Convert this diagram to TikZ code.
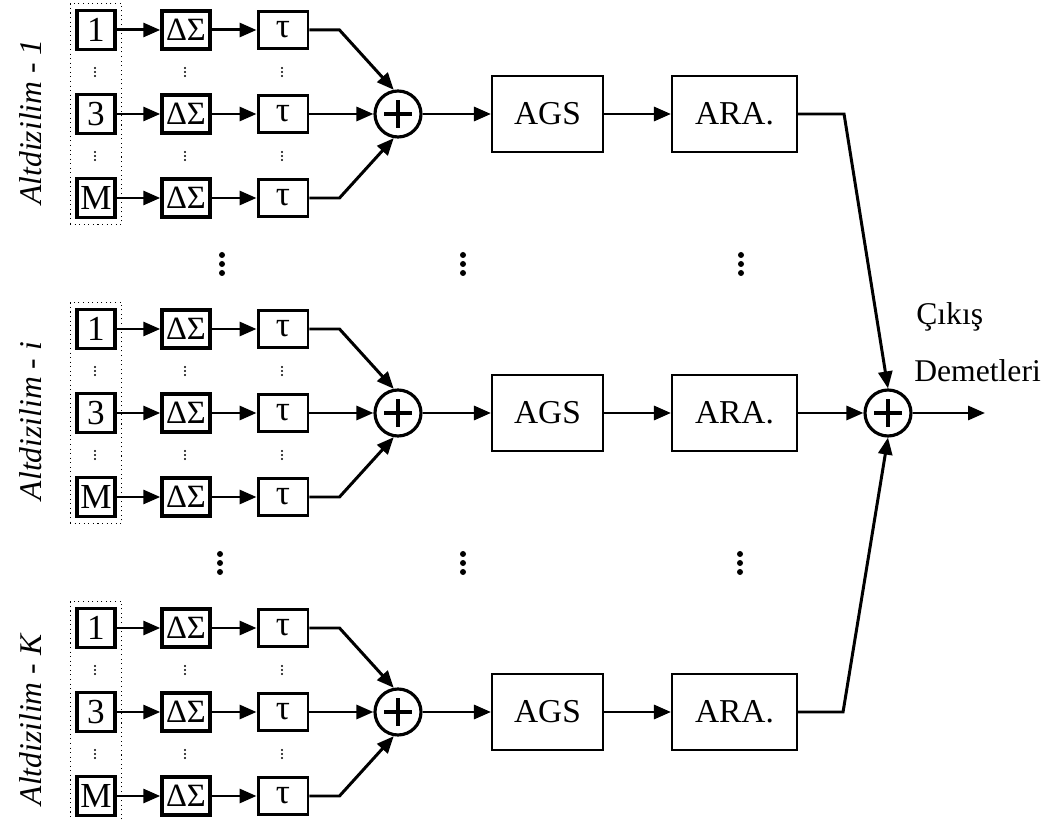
\documentclass[tikz,border=0pt]{standalone}
\usepackage{fontspec}
\setmainfont{Liberation Serif}
\usetikzlibrary{arrows.meta, fit}

\tikzset{
  chanbox/.style={draw, line width=2.2pt, minimum width=0.76cm, minimum height=0.78cm, inner sep=0pt, font=\fontsize{20}{22}\selectfont},
  dsbox/.style={chanbox, line width=2pt, minimum width=0.96cm, minimum height=0.76cm, font=\fontsize{18.5}{21}\selectfont},
  taubox/.style={chanbox, line width=1.7pt, minimum width=1.0cm, minimum height=0.74cm},
  blockbox/.style={draw, line width=1.2pt, minimum height=1.52cm, inner sep=0pt, font=\fontsize{19}{21}\selectfont},
  summer/.style={circle, draw, line width=1.8pt, minimum size=0.92cm, inner sep=0pt,
    path picture={\draw[line width=2pt]
      ([xshift=-0.28cm]path picture bounding box.center) -- ([xshift=0.28cm]path picture bounding box.center)
      ([yshift=-0.28cm]path picture bounding box.center) -- ([yshift=0.28cm]path picture bounding box.center);}},
  sig/.style={line width=1.7pt, -{Triangle[length=0.34cm, width=0.28cm]}},
  grouplabel/.style={rotate=90, inner sep=0pt, font=\fontsize{18}{20}\selectfont\itshape},
  outlabel/.style={anchor=base west, inner sep=0pt, font=\fontsize{18}{20}\selectfont}
}

\begin{document}
\begin{tikzpicture}[x=0.02cm, y=-0.02cm]
\useasboundingbox (0,0) rectangle (1048,820);
% three sub-arrays: 1, i, K
\foreach \g/\yc/\name in {1/114/1, 2/413/i, 3/712/K} {
  \node[grouplabel] (lbl\g) at (31,\yc+8) {Altdizilim - \name};
  \foreach \r/\dy/\lab in {1/-84/1, 2/0/3, 3/84/M} {
    \node[chanbox] (in\g-\r) at (96,\yc+\dy) {\lab};
    \node[dsbox] (ds\g-\r) at (186,\yc+\dy) {ΔΣ};
    \node[taubox] (tau\g-\r) at (283,\yc+\dy) {τ};
    \draw[sig] (in\g-\r) -- (ds\g-\r);
    \draw[sig] (ds\g-\r) -- (tau\g-\r);
  }
  \node[draw, dotted, line width=0.6pt, inner sep=0.1cm, fit=(in\g-1)(in\g-3)] (arr\g) {};
  % small dots between the rows
  \foreach \cx in {95,185,282}
    \foreach \my in {-42,42}
      \foreach \d in {-4,0,4}
        \fill (\cx,\yc+\my+\d) circle (1.1);
  \node[summer] (sum\g) at (398,\yc) {};
  \node[blockbox, minimum width=2.22cm] (ags\g) at (547.5,\yc) {AGS};
  \node[blockbox, minimum width=2.5cm] (ara\g) at (734.5,\yc) {ARA.};
  \draw[sig] (tau\g-1.east) -- ++(30,0) -- (sum\g.100);
  \draw[sig] (tau\g-2) -- (sum\g);
  \draw[sig] (tau\g-3.east) -- ++(30,0) -- (sum\g.260);
  \draw[sig] (sum\g) -- (ags\g);
  \draw[sig] (ags\g) -- (ara\g);
}
% big dots between the sub-arrays
\foreach \cx/\cy in {222/264, 463/264, 741/264, 220/563, 463/563, 740/563}
  \foreach \d in {-9,0,9}
    \fill (\cx,\cy+\d) circle (3);
% output combiner
\node[summer] (out) at (888,413) {};
\coordinate (end) at (985,413);
\draw[sig] (ara1.east) -- ++(46,0) -- (out.north);
\draw[sig] (ara2) -- (out);
\draw[sig] (ara3.east) -- ++(45,0) -- (out.south);
\draw[sig] (out) -- (end);
\node[outlabel] (cikis) at (916,325) {Çıkış};
\node[outlabel] (demet) at (914,382) {Demetleri};
\end{tikzpicture}
\end{document}
